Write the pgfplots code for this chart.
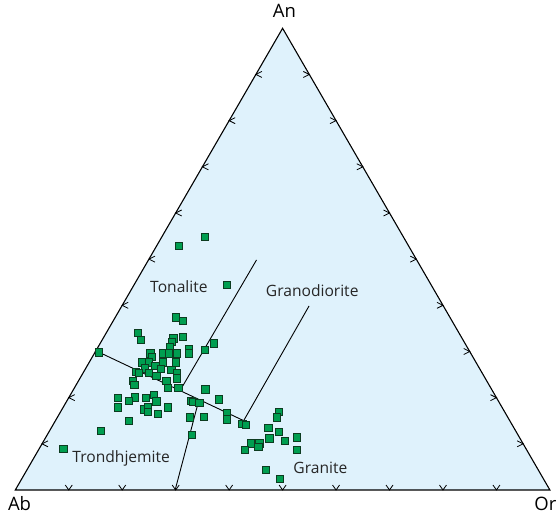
\documentclass[border=0pt]{standalone}
\usepackage{fontspec}
\setmainfont{Open Sans}
\usepackage{pgfplots}
\pgfplotsset{compat=1.18}

\definecolor{fieldblue}{RGB}{223,242,252}
\definecolor{ptgreen}{RGB}{0,158,80}
\definecolor{ptedge}{RGB}{12,60,32}

% chevron ticks, tip on the triangle edge
\pgfdeclareplotmark{tickdown}{%
  \pgfpathmoveto{\pgfqpoint{-3.5pt}{5pt}}%
  \pgfpathlineto{\pgfqpoint{0pt}{0pt}}%
  \pgfpathlineto{\pgfqpoint{3.5pt}{5pt}}%
  \pgfusepathqstroke}
\pgfdeclareplotmark{tickleft}{%
  \pgfpathmoveto{\pgfqpoint{6pt}{3pt}}%
  \pgfpathlineto{\pgfqpoint{0pt}{0pt}}%
  \pgfpathlineto{\pgfqpoint{6pt}{-3pt}}%
  \pgfusepathqstroke}
\pgfdeclareplotmark{tickright}{%
  \pgfpathmoveto{\pgfqpoint{-6pt}{3pt}}%
  \pgfpathlineto{\pgfqpoint{0pt}{0pt}}%
  \pgfpathlineto{\pgfqpoint{-6pt}{-3pt}}%
  \pgfusepathqstroke}

\tikzset{
  fieldname/.style={anchor=base west, inner sep=0pt, text=black!85,
    font=\fontsize{15.6}{18}\selectfont},
  apex/.style={inner sep=0pt, text=black, font=\fontsize{18.5}{21}\selectfont},
}

\begin{document}
\begin{tikzpicture}
\begin{axis}[
  scale only axis,
  width=534.6pt, height=461.7pt,
  xmin=0, xmax=100, ymin=0, ymax=100,
  hide axis, clip=false,
]
% field
\addplot[fill=fieldblue, draw=black, line width=1.1pt, line join=miter] coordinates {(0,0) (100,0) (50,100)} -- cycle;

% ticks (every 10 %)
\addplot[only marks, mark=tickdown, mark options={line width=0.8pt, black}] coordinates {
  (10,0) (20,0) (30,0) (40,0) (50,0) (60,0) (70,0) (80,0) (90,0)};
\addplot[only marks, mark=tickleft, mark options={line width=0.8pt, black}] coordinates {
  (5,10) (10,20) (15,30) (20,40) (25,50) (30,60) (35,70) (40,80) (45,90)};
\addplot[only marks, mark=tickright, mark options={line width=0.8pt, black}] coordinates {
  (95,10) (90,20) (85,30) (80,40) (75,50) (70,60) (65,70) (60,80) (55,90)};

% field boundaries
\addplot[black, line width=0.9pt] coordinates {(15.68,29.82) (42.72,15.02)};
\addplot[black, line width=0.9pt] coordinates {(45.12,49.82) (30.75,21.40)};
\addplot[black, line width=0.9pt] coordinates {(54.95,39.86) (42.72,15.02)};
\addplot[black, line width=0.9pt] coordinates {(34.30,19.30) (29.90,0)};

% samples
\addplot[only marks, mark=square*, mark size=3.6pt,
  mark options={fill=ptgreen, draw=ptedge, line width=0.7pt}] table {
x y
35.42 54.83
30.64 52.88
39.55 44.44
29.98 37.38
31.37 36.65
22.86 33.98
23.52 32.47
31.37 33.18
29.58 32.84
29.24 32.10
37.15 31.75
28.90 31.02
35.48 30.30
32.43 30.52
32.43 29.59
15.69 29.81
25.25 29.59
25.59 28.85
27.59 29.59
28.78 29.59
30.24 29.59
23.72 27.64
24.92 27.64
27.59 27.64
29.98 27.64
24.20 26.34
26.19 26.90
27.19 26.19
29.18 25.97
30.24 25.39
22.60 25.61
23.06 25.39
25.05 25.39
26.39 24.74
30.24 24.18
21.93 23.59
22.26 22.73
28.24 23.59
28.50 22.14
30.50 22.14
35.56 21.80
19.21 19.98
22.40 20.06
24.40 19.98
25.85 20.63
21.21 19.33
26.39 19.20
38.07 19.63
32.83 19.33
33.29 19.05
34.42 18.90
19.21 17.90
24.12 17.47
24.80 17.90
24.80 16.95
26.71 16.45
28.50 17.90
39.55 16.73
39.55 15.30
32.63 15.74
35.28 15.87
21.27 15.00
42.46 14.29
43.13 14.13
49.37 16.95
48.97 15.74
47.32 13.48
49.37 12.55
16.03 12.77
33.03 11.97
47.52 11.19
50.37 10.67
52.70 11.41
44.05 10.11
45.64 10.11
45.45 9.37
42.99 8.66
52.70 8.72
8.97 8.94
46.84 4.33
49.51 2.38
};

% field names
\node[fieldname] at (axis cs:25.20,42.73) {Tonalite};
\node[fieldname] at (axis cs:46.84,41.87) {Granodiorite};
\node[fieldname] at (axis cs:10.66,5.91) {Trondhjemite};
\node[fieldname] at (axis cs:52.00,3.47) {Granite};

% apices
\node[apex, anchor=base] at (axis cs:50.35,102.4) {An};
\node[apex, anchor=base] at (axis cs:0.79,-4.48) {Ab};
\node[apex, anchor=base west] at (axis cs:97.08,-4.48) {Or};

\coordinate (bl) at (axis cs:-2.862,-6.065);
\coordinate (tr) at (axis cs:101.33,106.13);
\end{axis}
\pgfresetboundingbox
\path (bl) rectangle (tr);
\end{tikzpicture}
\end{document}
